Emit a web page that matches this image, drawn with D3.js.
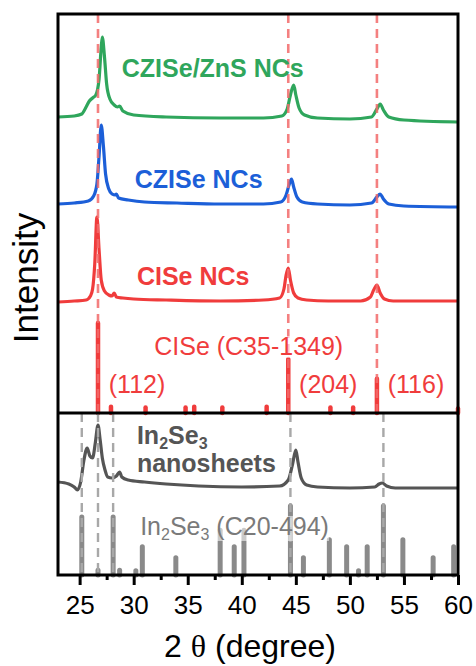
<!DOCTYPE html>
<html>
<head>
<meta charset="utf-8">
<script src="https://cdn.jsdelivr.net/npm/d3@7"></script>
<style>
  body { margin: 0; background: #fff; }
  text { font-family: "Liberation Sans", Arial, sans-serif; }
</style>
</head>
<body>
<svg></svg>
<script>
// ─── DATA ─────────────────────────────────────────────────────────────────────

const xTicks = [25, 30, 35, 40, 45, 50, 55, 60];
const xMinorTicks = [27.5, 32.5, 37.5, 42.5, 47.5, 52.5, 57.5];

// measured patterns: [2θ, intensity (a.u.)], baseline near 0
const czisZns = [
  [23, 0], [24.5, 1], [25.2, 3], [25.6, 10], [25.9, 16], [26.2, 19], [26.5, 22],
  [26.8, 38], [27.0, 70], [27.1, 80], [27.3, 60], [27.5, 33], [27.8, 18], [28.2, 12],
  [28.5, 10], [28.7, 11], [29.0, 6], [30, 2], [33, 0], [38, -1], [42, -1], [43.7, 1],
  [44.2, 8], [44.5, 22], [44.8, 32], [45.0, 22], [45.3, 9], [45.8, 2], [47, -1],
  [50, -2], [52.0, 0], [52.5, 8], [52.8, 13], [53.1, 7], [53.6, 0], [55, -3], [60, -5],
];
const czisNCs = [
  [23, 0], [24.5, 1], [25.8, 3], [26.3, 8], [26.6, 20], [26.8, 48], [27.0, 79],
  [27.2, 58], [27.4, 30], [27.7, 15], [28.0, 10], [28.3, 9], [28.4, 10], [28.6, 6],
  [29.5, 4], [31, 2], [34, 1], [38, 0], [42, 0], [43.6, 2], [44.1, 9], [44.4, 20],
  [44.6, 25], [44.8, 17], [45.1, 7], [45.6, 2], [47, 0], [50, -1], [52.0, 1],
  [52.5, 7], [52.8, 10], [53.1, 5], [53.6, 0], [55, -2], [60, -3],
];
const ciseNCs = [
  [23, 0], [24.5, 1], [25.6, 2], [26.0, 6], [26.2, 13], [26.4, 38], [26.6, 85],
  [26.8, 52], [27.0, 22], [27.3, 11], [27.7, 7], [28.0, 6], [28.2, 9], [28.4, 5],
  [29, 4], [30, 3], [33, 2], [38, 1], [42, 2], [43.5, 4], [43.9, 13], [44.1, 27],
  [44.3, 34], [44.5, 22], [44.8, 9], [45.2, 4], [46, 2], [48, 1], [51, 1], [51.9, 5],
  [52.2, 12], [52.5, 17], [52.8, 9], [53.2, 3], [54, 1], [56, 1], [60, 1],
];
const in2se3Sheets = [
  [23, 6], [24.0, 4], [24.5, 1], [24.8, -2], [25.1, 6], [25.4, 28], [25.7, 40],
  [25.95, 32], [26.2, 30], [26.45, 45], [26.7, 63], [26.9, 48], [27.1, 30],
  [27.35, 18], [27.6, 11], [28.0, 10], [28.4, 12], [28.7, 16], [28.9, 11], [29.5, 8],
  [31, 6], [33, 4], [36, 2], [40, 1], [43.5, 2], [44.3, 8], [44.7, 24], [45.0, 38],
  [45.2, 26], [45.5, 10], [46.0, 3], [47, 1], [50, 0], [52.3, 1], [52.7, 4],
  [53.0, 5], [53.4, 2], [54.2, 0], [60, 0],
];

// vertical stacking offsets of the patterns (a.u.)
const offsets = { czisZns: 296, czisNCs: 209, ciseNCs: 111, in2se3Sheets: 87 };

// reference cards: [2θ, relative intensity %]
const ciseCard = [
  [26.7, 100], [27.9, 7], [31.1, 6], [34.8, 6], [35.6, 7], [38.2, 6], [42.3, 7],
  [44.3, 60], [48.2, 6], [50.3, 6], [52.5, 38], [60, 5],
];
const in2se3Card = [
  [25.2, 84], [26.7, 7], [28.1, 84], [28.7, 7], [30.2, 6], [30.8, 41], [33.9, 25],
  [38.0, 65], [39.3, 41], [40.2, 65], [44.5, 100], [45.7, 25], [48.1, 51],
  [49.7, 41], [50.8, 6], [51.6, 41], [53.1, 100], [54.9, 51], [57.7, 25], [59.6, 41],
];
const ciseHkl = [["(112)", 26.7], ["(204)", 44.3], ["(116)", 52.5]];
const ciseGuides = [26.7, 44.3, 52.5];
const in2se3Guides = [25.2, 26.7, 28.1, 44.5, 53.1];

// ─── DIMENSIONS, SVG & SCALES ─────────────────────────────────────────────────

const width = 476,
  height = 666,
  margin = { top: 14, right: 18, bottom: 91, left: 58 },
  splitY = 413; // line between the two panels

const svg = d3.select("svg").attr("width", width).attr("height", height);

const x = d3.scaleLinear().domain([23, 60]).range([margin.left, width - margin.right]);
const yTop = d3.scaleLinear().domain([0, 399]).range([splitY, margin.top]);
const yBot = d3.scaleLinear().domain([0, 162]).range([height - margin.bottom, splitY]);
const cardTop = d3.scaleLinear().domain([0, 100]).range([yTop(0), yTop(90)]);
const cardBot = d3.scaleLinear().domain([0, 100]).range([yBot(0), yBot(69)]);

const red = "#f03c3c",
  blue = "#1c5fd8",
  green = "#2fa65c",
  dark = "#555555",
  grey = "#8a8a8a";

// ─── REFERENCE STICKS ─────────────────────────────────────────────────────────

svg.append("g")
  .selectAll("line")
  .data(ciseCard)
  .join("line")
  .attr("x1", (d) => x(d[0]))
  .attr("x2", (d) => x(d[0]))
  .attr("y1", cardTop(0))
  .attr("y2", (d) => cardTop(d[1]))
  .attr("stroke", red)
  .attr("stroke-linecap", "round")
  .attr("stroke-width", 4.5);

svg.append("g")
  .selectAll("line")
  .data(in2se3Card)
  .join("line")
  .attr("x1", (d) => x(d[0]))
  .attr("x2", (d) => x(d[0]))
  .attr("y1", cardBot(0))
  .attr("y2", (d) => cardBot(d[1]))
  .attr("stroke", grey)
  .attr("stroke-linecap", "round")
  .attr("stroke-width", 5);

// ─── PATTERNS ─────────────────────────────────────────────────────────────────

const drawPattern = (data, yScale, offset, colour) => {
  const line = d3.line()
    .curve(d3.curveMonotoneX)
    .x((d) => x(d[0]))
    .y((d) => yScale(d[1] + offset));
  svg.append("path")
    .datum(data)
    .attr("fill", "none")
    .attr("stroke", colour)
    .attr("stroke-width", 3.2)
    .attr("stroke-linejoin", "round")
    .attr("d", line);
};

drawPattern(czisZns, yTop, offsets.czisZns, green);
drawPattern(czisNCs, yTop, offsets.czisNCs, blue);
drawPattern(ciseNCs, yTop, offsets.ciseNCs, red);
drawPattern(in2se3Sheets, yBot, offsets.in2se3Sheets, dark);

// ─── DASHED GUIDES ────────────────────────────────────────────────────────────

svg.append("g")
  .selectAll("line")
  .data(ciseGuides)
  .join("line")
  .attr("x1", (d) => x(d))
  .attr("x2", (d) => x(d))
  .attr("y1", margin.top)
  .attr("y2", splitY)
  .attr("stroke", "#f26a6a")
  .attr("stroke-opacity", 0.85)
  .attr("stroke-width", 2.6)
  .attr("stroke-dasharray", "9,6");

svg.append("g")
  .selectAll("line")
  .data(in2se3Guides)
  .join("line")
  .attr("x1", (d) => x(d))
  .attr("x2", (d) => x(d))
  .attr("y1", splitY)
  .attr("y2", yBot(0))
  .attr("stroke", "#a8a8a8")
  .attr("stroke-width", 2.4)
  .attr("stroke-dasharray", "9,6");

// ─── LABELS ───────────────────────────────────────────────────────────────────

const label = (tx, ty, colour, bold) =>
  svg.append("text")
    .attr("x", tx)
    .attr("y", ty)
    .attr("fill", colour)
    .attr("font-size", 25)
    .attr("font-weight", bold ? "bold" : null);

// white veil behind a label, so sticks fade where they cross it
const veil = (t) => {
  const b = t.node().getBBox();
  svg.insert("rect", () => t.node())
    .attr("x", b.x)
    .attr("y", b.y + 4)
    .attr("width", b.width)
    .attr("height", b.height - 6)
    .attr("fill", "#fff")
    .attr("opacity", 0.55);
};

// chemical formula with subscripts, e.g. In2Se3
const formula = (t, suffix) => {
  t.append("tspan").text("In");
  t.append("tspan").attr("font-size", 16).attr("dy", 5).text("2");
  t.append("tspan").attr("dy", -5).text("Se");
  t.append("tspan").attr("font-size", 16).attr("dy", 5).text("3");
  if (suffix) t.append("tspan").attr("dy", -5).text(suffix);
  return t;
};

label(x(28.9), yTop(336), green, true).text("CZISe/ZnS NCs");
label(x(30.1), yTop(225), blue, true).text("CZISe NCs");
label(x(30.3), yTop(128), red, true).text("CISe NCs");
veil(label(x(31.9), yTop(58), red, false).text("CISe (C35-1349)"));

ciseHkl.forEach(([hkl, t]) => label(x(t + 1.0), yTop(20), red, false).text(hkl));

formula(label(x(30.3), yBot(131), dark, true));
label(x(30.3), yBot(103), dark, true).text("nanosheets");

veil(formula(label(x(30.6), yBot(40), "#7a7a7a", false), " (C20-494)"));

// ─── FRAME & AXES ─────────────────────────────────────────────────────────────

svg.append("rect")
  .attr("x", margin.left)
  .attr("y", margin.top)
  .attr("width", width - margin.left - margin.right)
  .attr("height", height - margin.top - margin.bottom)
  .attr("fill", "none")
  .attr("stroke", "#000")
  .attr("stroke-width", 3);

svg.append("line")
  .attr("x1", margin.left)
  .attr("x2", width - margin.right)
  .attr("y1", splitY)
  .attr("y2", splitY)
  .attr("stroke", "#000")
  .attr("stroke-width", 3);

const xAxis = svg.append("g")
  .attr("transform", `translate(0,${yBot(0)})`)
  .call(d3.axisBottom(x).tickValues(xTicks).tickSize(10).tickPadding(11));
xAxis.select(".domain").remove();
xAxis.selectAll(".tick line").attr("stroke-width", 3);
xAxis.selectAll(".tick text")
  .attr("font-size", 26)
  .attr("font-family", "Liberation Sans, Arial, sans-serif");

const xMinor = svg.append("g")
  .attr("transform", `translate(0,${yBot(0)})`)
  .call(d3.axisBottom(x).tickValues(xMinorTicks).tickSize(5).tickFormat(""));
xMinor.select(".domain").remove();
xMinor.selectAll(".tick line").attr("stroke-width", 3);

const xTitle = svg.append("text")
  .attr("x", 250)
  .attr("y", 657)
  .attr("text-anchor", "middle")
  .attr("font-size", 32);
xTitle.append("tspan").text("2 ");
xTitle.append("tspan").attr("font-family", "Liberation Serif, serif").text("θ");
xTitle.append("tspan").text(" (degree)");

svg.append("text")
  .attr("transform", `translate(38,278) rotate(-90)`)
  .attr("text-anchor", "middle")
  .attr("font-size", 35)
  .text("Intensity");
</script>
</body>
</html>
